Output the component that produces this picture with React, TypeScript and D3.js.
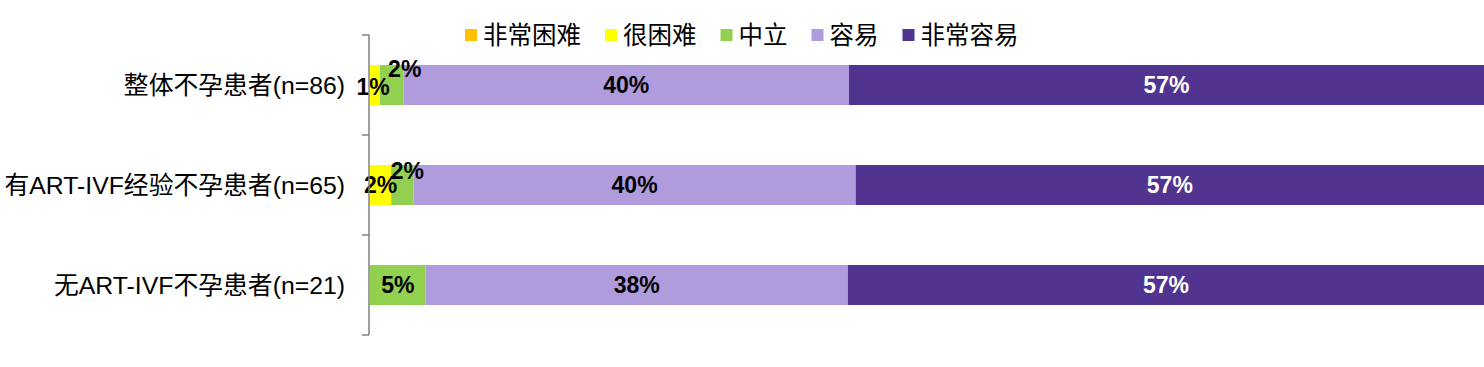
import React from "react";
import * as d3 from "d3";

const categories = ["整体不孕患者(n=86)", "有ART-IVF经验不孕患者(n=65)", "无ART-IVF不孕患者(n=21)"];
const seriesNames = ["非常困难", "很困难", "中立", "容易", "非常容易"];
const veryHard = [0, 0, 0];
const hard = [0.9, 1.9, 0];
const neutral = [2.1, 2.0, 5.0];
const easy = [40.0, 39.7, 37.9];
const veryEasy = [57.0, 56.6, 57.1];

const colors = ["#FFC000", "#FFFF00", "#92D050", "#B09CDC", "#50348F"];
const labelColors = ["#000", "#000", "#000", "#000", "#fff"];

// manual nudges for crowded small labels: [seriesIndex, rowIndex] -> [dx, dy]
const nudges: Record<string, [number, number]> = {
  "1-0": [-2, 2],
  "2-0": [13, -16],
  "1-1": [0, 0],
  "2-1": [5, -14],
};

const W = 1484;
const H = 367;
const fontFamily = "'Liberation Sans', Arial, 'Noto Sans CJK SC', sans-serif";

export default function App() {
  const series = [veryHard, hard, neutral, easy, veryEasy];
  const rows = categories.map((c, i) => {
    const r: any = { cat: c };
    seriesNames.forEach((s, j) => (r[s] = series[j][i]));
    return r;
  });
  const stacked = d3.stack<any>().keys(seriesNames)(rows);

  const x = d3.scaleLinear().domain([0, 100]).range([370, 1484]);
  const y = d3
    .scaleBand()
    .domain(categories)
    .range([35, 335])
    .paddingInner(0.6)
    .paddingOuter(0.3);

  const axisX = 369;
  const tickYs = d3.range(categories.length + 1).map((i) => 35 + i * y.step());

  // legend layout
  const legFont = 24.5;
  let lx = 465;
  const legend = seriesNames.map((s, i) => {
    const item = { s, i, x: lx };
    lx += 18 + s.length * legFont + 24;
    return item;
  });

  return (
    <svg width={W} height={H} style={{ position: "absolute", left: 0, top: 0 }} fontFamily={fontFamily}>
      <rect width={W} height={H} fill="#fff" />
      {legend.map((l) => (
        <g key={l.s}>
          <rect x={l.x} y={29} width={12} height={12} fill={colors[l.i]} />
          <text x={l.x + 18} y={35} dominantBaseline="central" fontSize={legFont} fill="#000">
            {l.s}
          </text>
        </g>
      ))}
      {stacked.map((layer, si) =>
        layer.map((d, ri) => {
          const v = d[1] - d[0];
          if (v <= 0) return null;
          const cat = categories[ri];
          const x0 = x(d[0]);
          const x1 = si === seriesNames.length - 1 ? W : x(d[1]);
          return (
            <rect key={`${si}-${ri}`} x={x0} y={y(cat)!} width={x1 - x0} height={y.bandwidth()} fill={colors[si]} />
          );
        })
      )}
      {stacked.map((layer, si) =>
        layer.map((d, ri) => {
          const v = d[1] - d[0];
          if (v <= 0) return null;
          const cat = categories[ri];
          const x0 = x(d[0]);
          const x1 = si === seriesNames.length - 1 ? W : x(d[1]);
          const [dx, dy] = nudges[`${si}-${ri}`] || [0, 0];
          return (
            <text
              key={`l${si}-${ri}`}
              x={(x0 + x1) / 2 + dx}
              y={y(cat)! + y.bandwidth() / 2 + dy}
              textAnchor="middle"
              dominantBaseline="central"
              fontSize={23}
              fontWeight="bold"
              fill={labelColors[si]}
            >
              {`${Math.round(v)}%`}
            </text>
          );
        })
      )}
      <line x1={axisX} x2={axisX} y1={35} y2={335} stroke="#808080" strokeWidth={1.5} />
      {tickYs.map((t) => (
        <line key={t} x1={362} x2={axisX} y1={t} y2={t} stroke="#808080" strokeWidth={1.5} />
      ))}
      {categories.map((c) => (
        <text
          key={c}
          x={345}
          y={y(c)! + y.bandwidth() / 2}
          textAnchor="end"
          dominantBaseline="central"
          fontSize={24.8}
          fill="#000"
        >
          {c}
        </text>
      ))}
    </svg>
  );
}
